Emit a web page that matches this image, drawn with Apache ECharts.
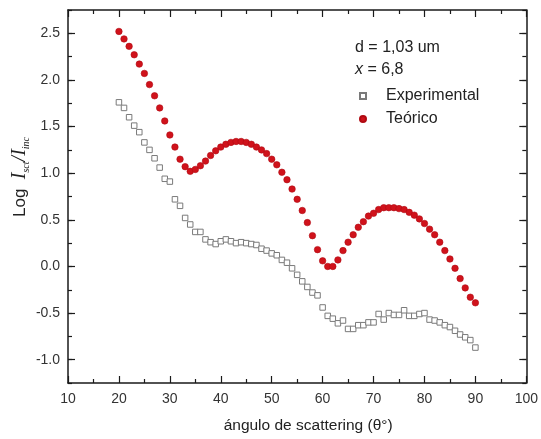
<!DOCTYPE html>
<html>
<head>
<meta charset="utf-8">
<script src="https://cdn.jsdelivr.net/npm/echarts@6/dist/echarts.min.js"></script>
<style>html,body{margin:0;padding:0;background:#fff}#c{width:541px;height:439px}</style>
</head>
<body>
<div id="c"></div>
<script>
const angles = [20,21,22,23,24,25,26,27,28,29,30,31,32,33,34,35,36,37,38,39,40,41,42,43,44,45,46,47,48,49,50,51,52,53,54,55,56,57,58,59,60,61,62,63,64,65,66,67,68,69,70,71,72,73,74,75,76,77,78,79,80,81,82,83,84,85,86,87,88,89,90];
const experimental = [1.76,1.70,1.60,1.51,1.44,1.33,1.25,1.16,1.06,0.94,
  0.91,0.72,0.65,0.52,0.45,0.37,0.37,0.29,0.26,0.24,
  0.27,0.29,0.27,0.25,0.26,0.25,0.24,0.23,0.19,0.17,
  0.14,0.12,0.07,0.04,-0.02,-0.09,-0.16,-0.22,-0.28,-0.31,
  -0.44,-0.53,-0.56,-0.61,-0.58,-0.67,-0.67,-0.63,-0.63,-0.60,
  -0.60,-0.51,-0.57,-0.50,-0.52,-0.52,-0.47,-0.53,-0.53,-0.51,
  -0.50,-0.57,-0.58,-0.60,-0.63,-0.65,-0.69,-0.73,-0.76,-0.79,-0.87];
const theoretical = [2.52,2.44,2.36,2.27,2.17,2.07,1.95,1.83,1.70,1.56,
  1.41,1.28,1.15,1.07,1.02,1.04,1.08,1.13,1.19,1.24,
  1.28,1.31,1.33,1.34,1.34,1.33,1.31,1.28,1.25,1.21,
  1.15,1.09,1.01,0.93,0.83,0.72,0.60,0.47,0.33,0.18,
  0.06,0.00,0.00,0.07,0.17,0.26,0.34,0.42,0.48,0.54,
  0.57,0.61,0.63,0.63,0.63,0.62,0.61,0.58,0.55,0.51,
  0.46,0.40,0.34,0.26,0.17,0.08,-0.02,-0.13,-0.23,-0.33,-0.39];
const yTickLabels = [-1.0,-0.5,0.0,0.5,1.0,1.5,2.0,2.5];
const seriesNames = ['Experimental','Teórico'];

const FONT = 'Liberation Sans, Arial, sans-serif';
const lineStyle = {color:'#1a1a1a', width:1.5};
const tickStyle = {color:'#1a1a1a', width:1.2};

function xAx(pos, labels) {
  return {
    type:'value', min:10, max:100, interval:10, position:pos,
    axisLine:{show:true, onZero:false, lineStyle},
    axisTick:{show:true, inside:true, length:7, lineStyle:tickStyle},
    minorTick:{show:true, splitNumber:2, length:4, lineStyle:tickStyle},
    axisLabel:{show:labels, margin:9, fontSize:14, color:'#333', fontFamily:FONT},
    splitLine:{show:false}, minorSplitLine:{show:false},
    name: labels ? 'ángulo de scattering (θ°)' : '',
    nameLocation:'middle', nameGap:35,
    nameTextStyle:{fontSize:15.5, color:'#222', fontFamily:FONT, padding:[0,0,0,22]}
  };
}
function yMinor(pos, labels) {
  return {
    type:'value', min:-1.25, max:2.75, interval:0.25, position:pos,
    axisLine:{show:true, onZero:false, lineStyle},
    axisTick:{show:true, inside:true, length:4, lineStyle:tickStyle},
    axisLabel:{show:labels, margin:8, fontSize:14, color:'#333', fontFamily:FONT,
      customValues: yTickLabels, formatter:(v)=>v.toFixed(1)},
    splitLine:{show:false}
  };
}
function yMajor(pos) {
  return {
    type:'value', min:-1.25, max:2.75, interval:0.25, position:pos,
    axisLine:{show:false, onZero:false},
    axisTick:{show:true, inside:true, length:7, lineStyle:tickStyle, customValues: yTickLabels},
    axisLabel:{show:false},
    splitLine:{show:false}
  };
}

const chart = echarts.init(document.getElementById('c'), null, {renderer:'canvas'});
chart.setOption({
  backgroundColor:'#fff',
  animation:false,
  grid:{left:68, right:13, top:10, bottom:56, containLabel:false},
  xAxis:[xAx('bottom', true), xAx('top', false)],
  yAxis:[yMinor('left', true), yMajor('left'), yMinor('right', false), yMajor('right')],
  legend:{
    orient:'vertical', left:354, top:83, itemWidth:6, itemHeight:6, itemGap:7,
    data:seriesNames,
    textStyle:{fontSize:16, color:'#222', fontFamily:FONT, padding:[0,0,0,15]}
  },
  graphic:[
    {type:'text', x:355, y:48, style:{text:'d = 1,03 um', fontSize:16, fontFamily:FONT, fill:'#222', verticalAlign:'middle'}},
    {type:'text', x:355, y:70, style:{text:'{i|x} = 6,8', fontSize:16, fontFamily:FONT, fill:'#222', verticalAlign:'middle',
      rich:{i:{fontStyle:'italic', fontSize:16, fontFamily:FONT, fill:'#222'}}}},
    {type:'text', x:20, y:177, rotation:Math.PI/2, style:{
      text:'{n|Log  }{i|I}{s|sct}{i|/I}{s|inc}', align:'center', verticalAlign:'middle',
      rich:{
        n:{fontSize:17, fontFamily:FONT, fill:'#222', lineHeight:22, verticalAlign:'middle'},
        i:{fontSize:20, fontStyle:'italic', fontFamily:'Liberation Serif, serif', fill:'#222', lineHeight:22, verticalAlign:'middle'},
        s:{fontSize:10, fontStyle:'italic', fontFamily:'Liberation Serif, serif', fill:'#222', lineHeight:12, verticalAlign:'bottom'}
      }}}
  ],
  series:[
    {name:seriesNames[0], type:'scatter', symbol:'rect', symbolSize:5.5,
      itemStyle:{color:'#ffffff', borderColor:'#7a7a7a', borderWidth:1, opacity:1},
      data: angles.map((a,i)=>[a, experimental[i]])},
    {name:seriesNames[1], type:'scatter', symbol:'circle', symbolSize:6.5,
      itemStyle:{color:'#d0121b', borderColor:'#b00a12', borderWidth:0.6, opacity:1},
      data: angles.map((a,i)=>[a, theoretical[i]])}
  ]
});
</script>
</body>
</html>
